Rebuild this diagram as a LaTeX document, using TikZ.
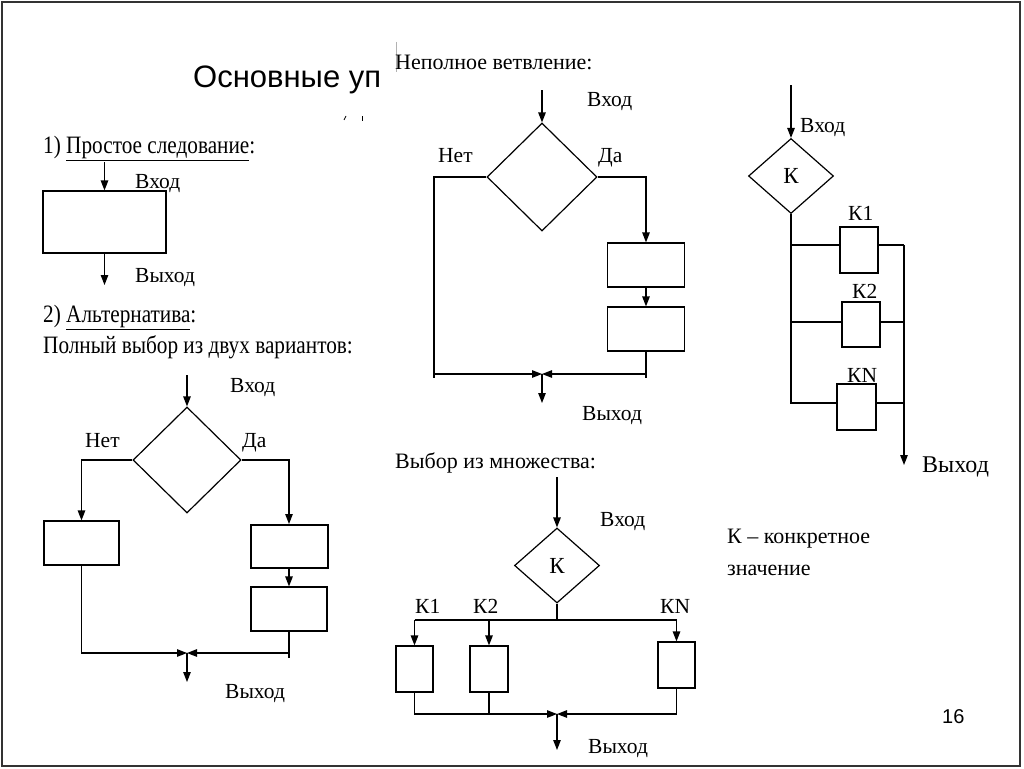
\documentclass[tikz,border=0pt]{standalone}
\usepackage{fontspec}
\setmainfont{Liberation Serif}
\newfontfamily\condf{Liberation Serif}[FakeStretch=0.85]
\newfontfamily\sansf{Liberation Sans}
\usetikzlibrary{shapes.geometric,arrows.meta}
\begin{document}
\begin{tikzpicture}[x=1pt,y=-1pt,
  ln/.style={line width=1.2pt},
  arr/.style={ln,-{Triangle[length=10pt,width=7.5pt]}},
  box/.style={draw,ln,rectangle,inner sep=0pt},
  dia/.style={draw,ln,diamond,inner sep=0pt,font=\fontsize{23}{25}\selectfont},
  lbl/.style={anchor=base west,inner sep=0pt,font=\fontsize{21.5}{24}\selectfont},
  hd/.style={anchor=base west,inner sep=0pt,font=\condf\fontsize{25}{28}\selectfont},
  hm/.style={anchor=base west,inner sep=0pt,font=\fontsize{22}{26}\selectfont},
]
\useasboundingbox (0,0) rectangle (1024,768);
\fill[white] (0,0) rectangle (1024,768);
\draw[line width=2pt, black!80] (2,2) rectangle (1020,766);

% title
\node[anchor=base west,inner sep=0pt,font=\sansf\fontsize{31}{34}\selectfont] (title) at (193,87) {Основные уп};
\draw[gray!60, line width=0.8pt] (396,42) -- (396,72);
\draw[line width=0.8pt] (344,120) -- (346,116);
\draw[line width=0.8pt] (362,116) -- (362,121);

% ---------- 1) simple sequence
\node[hd] (h1) at (43,153) {1)\ \underline{Простое следование}:};
\node[box, minimum width=123, minimum height=62] (s1) at (104.5,222) {};
\coordinate (s1in) at (104.5,162);
\coordinate (s1out) at (104.5,285);
\draw[arr] (s1in) -- (s1.north);
\draw[arr] (s1.south) -- (s1out);
\node[lbl] (s1v) at (135,188) {Вход};
\node[lbl] (s1w) at (135,282) {Выход};

% ---------- 2) alternative
\node[hd] (h2) at (43,322) {2)\ \underline{Альтернатива}:};
\node[hd] (h2b) at (43,353) {Полный выбор из двух вариантов:};
\node[dia, minimum width=108, minimum height=106] (d2) at (187,460) {};
\coordinate (d2in) at (187,375);
\draw[arr] (d2in) -- (d2.north);
\node[box, minimum width=75, minimum height=44] (lb) at (81.5,543) {};
\node[box, line width=2pt, minimum width=77, minimum height=43] (rb1) at (289,546.5) {};
\node[box, minimum width=76, minimum height=44] (rb2) at (289,609) {};
\draw[arr] (d2.west) -| (lb.north);
\draw[arr] (d2.east) -| (rb1.north);
\draw[arr] (rb1.south) -- (rb2.north);
\coordinate (m2) at (187,653);
\coordinate (t2) at (289,658);
\coordinate (o2) at (187,682);
\draw[ln] (rb2.south) -- (t2);
\draw[arr] (lb.south) |- (m2);
\draw[arr] (rb2.south) |- (m2);
\draw[arr] (m2) -- (o2);
\node[lbl] (v2) at (230,392) {Вход};
\node[lbl] (n2) at (85,447) {Нет};
\node[lbl] (y2) at (242,447) {Да};
\node[lbl] (w2) at (225,698) {Выход};

% ---------- incomplete branching
\node[hm] (h3) at (395,70) {Неполное ветвление:};
\node[dia, minimum width=110, minimum height=108] (d3) at (542,177) {};
\coordinate (d3in) at (542,90);
\draw[arr] (d3in) -- (d3.north);
\node[box, minimum width=77, minimum height=44] (a3) at (646,265) {};
\node[box, minimum width=77, minimum height=44] (b3) at (646,329) {};
\draw[arr] (d3.east) -| (a3.north);
\draw[arr] (a3.south) -- (b3.north);
\coordinate (c3) at (434,177);
\coordinate (m3) at (542,374);
\coordinate (t3) at (646,378);
\coordinate (t3l) at (434,378);
\coordinate (o3) at (542,403);
\draw[ln] (b3.south) -- (t3);
\draw[ln] (c3) -- (t3l);
\draw[arr] (d3.west) -- (c3) |- (m3);
\draw[arr] (b3.south) |- (m3);
\draw[arr] (m3) -- (o3);
\node[lbl] (v3) at (587,106) {Вход};
\node[lbl] (n3) at (438,162) {Нет};
\node[lbl] (y3) at (598,162) {Да};
\node[lbl] (w3) at (582,420) {Выход};

% ---------- right: choice (vertical)
\node[dia, minimum width=85, minimum height=75] (d4) at (791,176) {К};
\coordinate (d4in) at (791,85);
\draw[arr] (d4in) -- (d4.north);
\node[box, minimum width=38, minimum height=46] (k1) at (859,250) {};
\node[box, minimum width=38, minimum height=45] (k2) at (861,324.5) {};
\node[box, minimum width=39, minimum height=46] (kn) at (856.5,407) {};
\coordinate (b1) at (791,245);
\coordinate (b2) at (791,322);
\coordinate (b3p) at (791,403);
\draw[ln] (d4.south) -- (b3p) -- (b3p -| kn.west);
\draw[ln] (b1) -- (b1 -| k1.west);
\draw[ln] (b2) -- (b2 -| k2.west);
\coordinate (r1) at (904,245);
\coordinate (r2) at (904,322);
\coordinate (r3) at (904,403);
\coordinate (o4) at (904,465);
\draw[arr] (r1) -- (o4);
\draw[ln] (r1 -| k1.east) -- (r1);
\draw[ln] (r2 -| k2.east) -- (r2);
\draw[ln] (r3 -| kn.east) -- (r3);
\node[lbl] (v4) at (800,132) {Вход};
\node[lbl] (k1l) at (848,220) {К1};
\node[lbl] (k2l) at (852,298) {К2};
\node[lbl] (knl) at (847,382) {КN};
\node[lbl, font=\fontsize{24}{26}\selectfont] (w4) at (922,472) {Выход};

% ---------- bottom middle: choice from set
\node[hm] (h5) at (395,468) {Выбор из множества:};
\node[dia, minimum width=85, minimum height=75] (d5) at (557,565.5) {К};
\coordinate (d5in) at (557,477);
\draw[arr] (d5in) -- (d5.north);
\node[box, minimum width=37, minimum height=46] (p1) at (414.5,669) {};
\node[box, minimum width=38, minimum height=46] (p2) at (489,669) {};
\node[box, minimum width=37, minimum height=46] (pn) at (676.5,665) {};
\coordinate (bus) at (557,620);
\draw[ln] (d5.south) -- (bus);
\draw[ln] (bus -| p1.north) -- (bus -| pn.north);
\draw[arr] (bus -| p1.north) -- (p1.north);
\draw[arr] (bus -| p2.north) -- (p2.north);
\draw[arr] (bus -| pn.north) -- (pn.north);
\coordinate (m5) at (557,714);
\coordinate (o5) at (557,750);
\draw[arr] (p1.south) |- (m5);
\draw[ln] (p2.south) -- (p2.south |- m5);
\draw[arr] (pn.south) |- (m5);
\draw[arr] (m5) -- (o5);
\node[lbl] (v5) at (600,526) {Вход};
\node[lbl] (p1l) at (415,613) {К1};
\node[lbl] (p2l) at (473,613) {К2};
\node[lbl] (pnl) at (660,613) {КN};
\node[lbl] (w5) at (588,753) {Выход};

% ---------- note and page number
\node[hm] (note1) at (727,543) {К – конкретное};
\node[hm] (note2) at (727,575) {значение};
\node[anchor=base west,inner sep=0pt,font=\sansf\fontsize{20}{24}\selectfont] (pg) at (942,723) {16};
\end{tikzpicture}
\end{document}
